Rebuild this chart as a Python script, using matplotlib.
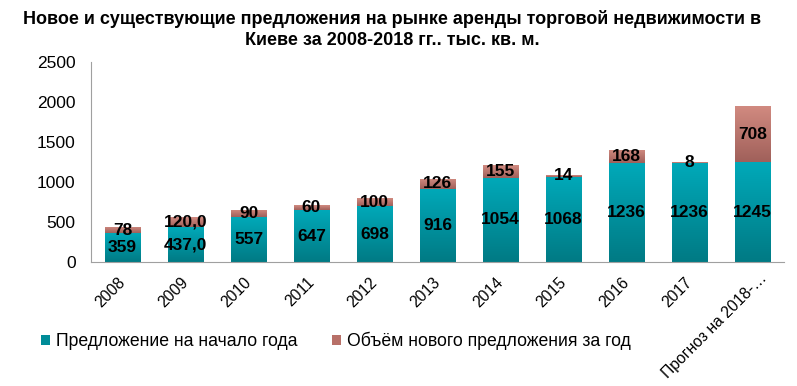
import matplotlib
matplotlib.use("Agg")
import matplotlib.pyplot as plt
import numpy as np
from matplotlib.colors import LinearSegmentedColormap
from matplotlib.patches import Patch
from matplotlib.transforms import ScaledTranslation

plt.rcParams['font.family'] = ['Liberation Sans', 'DejaVu Sans']

categories = ['2008', '2009', '2010', '2011', '2012', '2013', '2014', '2015',
              '2016', '2017', 'Прогноз на 2018-…']
start_supply = [359, 437.0, 557, 647, 698, 916, 1054, 1068, 1236, 1236, 1245]
new_supply = [78, 120.0, 90, 60, 100, 126, 155, 14, 168, 8, 708]
start_labels = ['359', '437,0', '557', '647', '698', '916', '1054', '1068', '1236', '1236', '1245']
new_labels = ['78', '120,0', '90', '60', '100', '126', '155', '14', '168', '8', '708']
series_names = ['Предложение на начало года', 'Объём нового предложения за год']
title = 'Новое и существующие предложения на рынке аренды торговой недвижимости в\nКиеве за 2008-2018 гг.. тыс. кв. м.'

fig = plt.figure(figsize=(7.97, 3.86), dpi=100)
ax = fig.add_axes([91/797, 1-262/386, 693/797, 200/386])

x = np.arange(len(categories))
w = 0.57
teal_cmap = LinearSegmentedColormap.from_list('t', ['#007A84', '#00A9B9'])
red_cmap = LinearSegmentedColormap.from_list('r', ['#A0605A', '#D28B81'])

b1 = ax.bar(x, start_supply, w, color='#0096A4', label=series_names[0], zorder=2)
b2 = ax.bar(x, new_supply, w, bottom=start_supply, color='#C47C72', label=series_names[1], zorder=2)

grad = np.linspace(0, 1, 256).reshape(-1, 1)
for bars, cmap in ((b1, teal_cmap), (b2, red_cmap)):
    for r in bars:
        x0, y0 = r.get_x(), r.get_y()
        ww, hh = r.get_width(), r.get_height()
        im = ax.imshow(grad, cmap=cmap, origin='lower', aspect='auto',
                       extent=[x0, x0 + ww, y0, y0 + hh], zorder=2.5)
        im.set_clip_path(r)
        r.set_facecolor('none')

ax.set_xlim(-0.5, len(categories) - 0.5)
ax.set_ylim(0, 2500)

for i in range(len(categories)):
    ax.text(x[i], start_supply[i] / 2, start_labels[i], ha='center', va='center',
            fontsize=12.5, fontweight='bold', color='black', zorder=4)
    ax.text(x[i], start_supply[i] + new_supply[i] / 2, new_labels[i], ha='center', va='center',
            fontsize=12.5, fontweight='bold', color='black', zorder=4)

ax.set_yticks([0, 500, 1000, 1500, 2000, 2500])
ax.tick_params(axis='y', length=0, labelsize=12.5, pad=11)
ax.set_xticks(x)
ax.set_xticklabels(categories, rotation=45, ha='right', va='top', rotation_mode='anchor', fontsize=11.3)
ax.tick_params(axis='x', length=0, pad=9.4)
labels = ax.get_xticklabels()
for i, lbl in enumerate(labels):
    if i == len(labels) - 1:
        off = ScaledTranslation(0.065, 0.05, fig.dpi_scale_trans)
    else:
        off = ScaledTranslation(-0.05, 0, fig.dpi_scale_trans)
    lbl.set_transform(lbl.get_transform() + off)

for s in ['top', 'right']:
    ax.spines[s].set_visible(False)
ax.spines['left'].set_color('#A0A0A0')
ax.spines['bottom'].set_color('#A0A0A0')

fig.text(392/797, 1 - 29.5/386, title, ha='center', va='center', fontsize=13, fontweight='bold', linespacing=1.35)

handles = [Patch(facecolor='#008C98'), Patch(facecolor='#B87068')]
fig.legend(handles, series_names, loc='center', bbox_to_anchor=(336/797, 1 - 341/386),
           ncol=2, frameon=False, fontsize=12.7, handlelength=0.5, handleheight=0.5,
           handletextpad=0.35, columnspacing=1.95)

fig.savefig('out.png', dpi=100)
